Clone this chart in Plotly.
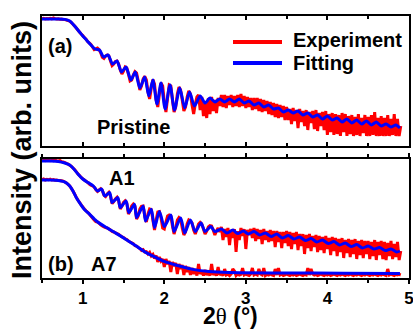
import numpy as np
import plotly.graph_objects as go

# ---- measured reflectivity scans: 2θ from 0.50° in steps of 0.02° ----
scan_start, scan_step = 0.50, 0.02

# log10 intensity (arb. units), ten points per row
pristine_exp = [
    6.36, 6.38, 6.35, 6.37, 6.36, 6.38, 6.36, 6.40, 6.37, 6.35,
    6.36, 6.34, 6.35, 6.33, 6.32, 6.30, 6.27, 6.24, 6.17, 6.09,
    6.00, 5.90, 5.80, 5.70, 5.60, 5.52, 5.42, 5.34, 5.22, 5.15,
    5.08, 4.95, 4.82, 4.86, 4.90, 4.82, 4.66, 4.44, 4.38, 4.50,
    4.55, 4.50, 4.25, 4.02, 4.10, 4.22, 4.25, 4.10, 3.80, 3.60,
    3.75, 3.95, 3.90, 3.60, 3.25, 3.30, 3.55, 3.72, 3.65, 3.25,
    2.80, 3.00, 3.35, 3.48, 3.30, 2.70, 2.35, 2.90, 3.32, 3.10,
    2.30, 1.95, 2.60, 3.15, 3.00, 2.20, 1.70, 2.40, 3.05, 3.00,
    2.30, 1.70, 1.95, 2.60, 2.95, 2.80, 2.30, 1.75, 1.95, 2.45,
    2.75, 2.60, 2.05, 1.60, 2.10, 2.45, 2.55, 1.80, 2.45, 1.50,
    2.10, 1.40, 2.40, 1.60, 2.45, 1.75, 2.30, 1.65, 2.40, 2.00,
    2.55, 1.95, 2.55, 1.90, 2.50, 2.05, 2.55, 1.95, 2.50, 2.00,
    2.55, 1.95, 2.60, 2.00, 2.50, 1.90, 2.45, 1.95, 2.40, 1.80,
    2.40, 1.85, 2.40, 1.75, 2.35, 1.70, 2.30, 1.75, 2.25, 1.60,
    2.20, 1.55, 2.15, 1.45, 2.10, 1.40, 2.05, 1.45, 2.00, 1.30,
    1.95, 1.30, 1.85, 1.10, 1.90, 1.25, 1.80, 0.90, 1.85, 1.20,
    1.75, 1.00, 1.80, 0.80, 1.70, 1.15, 1.75, 0.85, 1.80, 0.75,
    1.65, 1.00, 1.70, 0.80, 1.75, 0.55, 1.60, 0.70, 1.65, 0.55,
    1.60, 0.60, 1.55, 0.50, 1.65, 0.70, 1.60, 0.50, 1.50, 0.60,
    1.55, 0.50, 1.45, 0.55, 1.60, 0.50, 1.40, 0.65, 1.55, 0.50,
    1.45, 0.50, 1.55, 0.55, 1.70, 0.50, 1.40, 0.50, 1.50, 0.50,
    1.40, 0.50, 1.55, 0.50, 1.35, 0.55, 1.60, 0.50, 1.35, 0.50,
    1.00,
]

a1_exp = [
    5.88, 5.90, 5.87, 5.90, 5.88, 5.86, 5.89, 5.87, 5.90, 5.86,
    5.85, 5.87, 5.82, 5.80, 5.77, 5.73, 5.70, 5.64, 5.58, 5.50,
    5.42, 5.32, 5.21, 5.12, 5.03, 4.96, 4.90, 4.84, 4.78, 4.70,
    4.64, 4.60, 4.55, 4.42, 4.33, 4.40, 4.46, 4.38, 4.15, 4.08,
    4.20, 4.28, 4.10, 3.72, 3.82, 3.95, 4.03, 3.85, 3.45, 3.60,
    3.78, 3.86, 3.75, 3.20, 3.35, 3.60, 3.70, 3.60, 2.95, 3.10,
    3.45, 3.58, 3.60, 3.10, 2.80, 3.20, 3.45, 3.42, 2.90, 2.40,
    2.90, 3.30, 3.32, 3.00, 2.50, 2.45, 2.80, 3.10, 3.15, 3.10,
    2.60, 2.20, 2.50, 2.90, 3.02, 2.95, 2.50, 2.15, 2.30, 2.70,
    2.90, 2.85, 2.75, 2.40, 2.20, 2.45, 2.70, 2.78, 2.70, 2.45,
    2.20, 2.35, 2.55, 2.62, 2.60, 2.40, 2.15, 2.35, 2.50, 2.30,
    2.55, 1.90, 2.45, 2.05, 2.50, 1.65, 2.40, 2.00, 2.45, 1.30,
    2.35, 1.90, 2.50, 2.10, 2.45, 1.45, 2.40, 2.15, 2.45, 2.00,
    2.50, 1.85, 2.45, 1.95, 2.40, 1.70, 2.45, 1.90, 2.35, 1.80,
    2.40, 1.85, 2.35, 1.55, 2.35, 1.80, 2.30, 1.50, 2.30, 1.75,
    2.35, 1.60, 2.30, 1.45, 2.25, 1.70, 2.30, 1.40, 2.20, 1.60,
    2.20, 1.20, 2.15, 1.50, 2.20, 1.35, 2.10, 1.55, 2.15, 1.30,
    2.10, 1.40, 2.05, 1.25, 2.10, 1.45, 2.00, 1.15, 2.05, 1.35,
    2.00, 1.10, 1.95, 1.30, 2.00, 1.00, 1.90, 1.25, 1.95, 1.05,
    1.90, 1.20, 1.95, 0.95, 1.85, 1.15, 1.90, 1.00, 1.85, 1.20,
    1.85, 0.95, 1.80, 1.10, 1.90, 0.90, 1.80, 1.15, 1.85, 0.95,
    1.80, 0.90, 1.75, 1.10, 1.85, 0.95, 1.70, 1.05, 1.80, 0.90,
    1.35,
]

a7_exp = [
    4.92, 4.95, 4.90, 4.93, 4.91, 4.94, 4.90, 4.92, 4.89, 4.90,
    4.88, 4.87, 4.86, 4.84, 4.80, 4.75, 4.68, 4.60, 4.48, 4.35,
    4.20, 4.04, 3.90, 3.78, 3.66, 3.55, 3.45, 3.36, 3.28, 3.20,
    3.10, 3.00, 2.90, 2.82, 2.80, 2.74, 2.66, 2.60, 2.56, 2.52,
    2.50, 2.45, 2.40, 2.33, 2.30, 2.26, 2.22, 2.18, 2.12, 2.06,
    2.02, 1.96, 1.92, 1.85, 1.80, 1.76, 1.72, 1.62, 1.60, 1.52,
    1.48, 1.38, 1.42, 1.30, 1.32, 1.20, 1.28, 1.10, 1.18, 0.98,
    1.12, 0.80, 1.05, 0.85, 0.95, 0.55, 0.95, 0.70, 0.85, 0.30,
    0.80, 0.60, 0.75, 0.20, 0.70, 0.45, 0.65, 0.15, 0.60, 0.30,
    0.55, 0.15, 0.50, 0.20, 0.45, 0.12, 0.70, 0.20, 0.35, 0.12,
    0.40, 0.15, 0.32, 0.12, 0.70, 0.15, 0.30, 0.12, 0.55, 0.15,
    0.25, 0.12, 0.45, 0.15, 0.20, 0.12, 0.20, 0.45, 0.35, 0.12,
    0.20, 0.15, 0.18, 0.50, 0.15, 0.20, 0.15, 0.12, 0.20, 0.50,
    0.15, 0.20, 0.15, 0.45, 0.20, 0.15, 0.50, 0.12, 0.18, 0.15,
    0.20, 0.15, 0.12, 0.45, 0.15, 0.50, 0.15, 0.20, 0.12, 0.15,
    0.20, 0.15, 0.12, 0.18, 0.15, 0.20, 0.12, 0.15, 0.20, 0.15,
    0.12, 0.18, 0.15, 0.50, 0.15, 0.45, 0.20, 0.15, 0.18, 0.12,
    0.15, 0.20, 0.15, 0.12, 0.18, 0.15, 0.20, 0.12, 0.15, 0.20,
    0.15, 0.12, 0.18, 0.15, 0.20, 0.15, 0.12, 0.18, 0.15, 0.20,
    0.15, 0.12, 0.18, 0.15, 0.20, 0.15, 0.12, 0.18, 0.15, 0.20,
    0.15, 0.12, 0.18, 0.15, 0.20, 0.15, 0.12, 0.18, 0.15, 0.20,
    0.15, 0.12, 0.45, 0.15, 0.20, 0.15, 0.12, 0.18, 0.15, 0.18,
    0.15,
]

# ---- fitted model curves: nodes (2θ, log10 intensity) ----
pristine_fit_2theta = [
    0.50, 0.60, 0.70, 0.78, 0.84, 0.90, 0.96, 1.00, 1.05, 1.10,
    1.15, 1.205, 1.255, 1.31, 1.365, 1.42, 1.475, 1.53, 1.59, 1.645,
    1.70, 1.76, 1.81, 1.86, 1.91, 1.96, 2.01, 2.07, 2.125, 2.19,
    2.25, 2.31, 2.37, 2.44, 2.50, 2.56, 2.62, 2.68, 2.74, 2.80,
    2.86, 2.92, 2.98, 3.04, 3.10, 3.16, 3.22, 3.28, 3.34, 3.40,
    3.46, 3.52, 3.58, 3.64, 3.70, 3.76, 3.82, 3.88, 3.94, 4.00,
    4.06, 4.12, 4.18, 4.24, 4.30, 4.36, 4.42, 4.48, 4.54, 4.60,
    4.66, 4.72, 4.78, 4.84, 4.89,
]
pristine_fit = [
    6.35, 6.35, 6.35, 6.33, 6.25, 6.00, 5.70, 5.50, 5.28, 5.05,
    4.85, 4.80, 4.45, 4.55, 4.10, 4.25, 3.70, 3.95, 3.30, 3.70,
    2.90, 3.45, 2.50, 3.30, 2.10, 3.15, 1.85, 3.05, 1.80, 2.90,
    1.90, 2.70, 2.00, 2.50, 2.15, 2.40, 2.20, 2.35, 2.20, 2.35,
    2.20, 2.35, 2.15, 2.25, 2.05, 2.15, 1.95, 2.05, 1.85, 1.90,
    1.70, 1.80, 1.65, 1.75, 1.55, 1.65, 1.45, 1.55, 1.35, 1.50,
    1.30, 1.40, 1.20, 1.35, 1.15, 1.30, 1.10, 1.25, 1.05, 1.20,
    1.00, 1.10, 0.95, 1.05, 0.90,
]

a1_fit_2theta = [
    0.50, 0.60, 0.70, 0.78, 0.84, 0.88, 0.94, 1.00, 1.065, 1.13,
    1.18, 1.23, 1.27, 1.33, 1.36, 1.43, 1.46, 1.53, 1.565, 1.634,
    1.66, 1.74, 1.77, 1.84, 1.88, 1.94, 2.00, 2.08, 2.12, 2.20,
    2.25, 2.32, 2.38, 2.45, 2.50, 2.57, 2.62, 2.70, 2.77, 2.84,
    2.90, 2.97, 3.03, 3.10, 3.17, 3.24, 3.31, 3.38, 3.45, 3.52,
    3.59, 3.66, 3.73, 3.80, 3.87, 3.94, 4.01, 4.08, 4.15, 4.22,
    4.29, 4.36, 4.43, 4.50, 4.57, 4.64, 4.71, 4.78, 4.85, 4.89,
]
a1_fit = [
    5.85, 5.85, 5.83, 5.75, 5.65, 5.50, 5.20, 4.95, 4.77, 4.60,
    4.35, 4.45, 4.10, 4.27, 3.77, 4.02, 3.52, 3.85, 3.27, 3.69,
    3.02, 3.60, 2.85, 3.44, 2.52, 3.33, 2.57, 3.15, 2.32, 3.00,
    2.25, 2.90, 2.32, 2.75, 2.32, 2.57, 2.32, 2.45, 2.25, 2.40,
    2.22, 2.35, 2.20, 2.32, 2.15, 2.25, 2.07, 2.20, 2.00, 2.12,
    1.95, 2.05, 1.87, 1.97, 1.80, 1.90, 1.72, 1.82, 1.65, 1.75,
    1.57, 1.67, 1.50, 1.60, 1.45, 1.52, 1.37, 1.45, 1.30, 1.35,
]

a7_fit_2theta = [
    0.50, 0.60, 0.70, 0.76, 0.80, 0.84, 0.88, 0.92, 0.96, 1.02,
    1.085, 1.167, 1.29, 1.41, 1.53, 1.655, 1.777, 1.90, 2.00, 2.14,
    2.35, 2.55, 2.80, 3.50, 4.20, 4.89,
]
a7_fit = [
    4.90, 4.90, 4.88, 4.83, 4.75, 4.60, 4.35, 4.03, 3.77, 3.43,
    3.18, 2.85, 2.52, 2.23, 1.93, 1.60, 1.27, 1.02, 0.83, 0.65,
    0.43, 0.32, 0.27, 0.25, 0.24, 0.23,
]

x_tick_values = [1, 2, 3, 4, 5]
x_tick_labels = ["1", "2", "3", "4", "5"]

# ---- drawing ----
W, H = 413, 331
RED = "#ff0000"
BLUE = "#0000ff"
FONT = "Liberation Sans, Arial, sans-serif"


def fx(px):
    return px / W


def fy(px):
    return 1 - px / H


def scan_axis(values):
    return np.round(scan_start + scan_step * np.arange(len(values)), 3)


def intensity(logs):
    return np.power(10.0, np.asarray(logs, dtype=float))


exp_line = dict(color=RED, width=3, simplify=False)
fit_line = dict(color=BLUE, width=3, shape="spline", smoothing=0.7, simplify=False)

fig = go.Figure()

# (a) pristine film
fig.add_trace(go.Scatter(x=scan_axis(pristine_exp), y=intensity(pristine_exp),
                         mode="lines", line=exp_line, xaxis="x", yaxis="y"))
fig.add_trace(go.Scatter(x=pristine_fit_2theta, y=intensity(pristine_fit),
                         mode="lines", line=fit_line, xaxis="x", yaxis="y"))

# (b) annealed films A1 and A7
for exp_vals, fit_x, fit_vals in ((a1_exp, a1_fit_2theta, a1_fit),
                                  (a7_exp, a7_fit_2theta, a7_fit)):
    fig.add_trace(go.Scatter(x=scan_axis(exp_vals), y=intensity(exp_vals),
                             mode="lines", line=exp_line, xaxis="x2", yaxis="y2"))
    fig.add_trace(go.Scatter(x=fit_x, y=intensity(fit_vals),
                             mode="lines", line=fit_line, xaxis="x2", yaxis="y2"))

x_common = dict(
    domain=[fx(42), fx(409)], range=[0.5, 5.001], automargin=False,
    tickmode="array", tickvals=x_tick_values, ticktext=x_tick_labels,
    ticklen=4, tickwidth=1.5, tickcolor="black",
    minor=dict(dtick=0.5, tick0=0, ticklen=3, tickwidth=1.5, tickcolor="black"),
    showline=True, linewidth=2, linecolor="black", mirror="ticks",
    showgrid=False, zeroline=False,
)
y_common = dict(
    type="log", showticklabels=False, ticks="", automargin=False,
    showline=True, linewidth=2, linecolor="black", mirror=True,
    showgrid=False, zeroline=False,
)

fig.update_layout(
    width=W, height=H,
    margin=dict(l=0, r=0, t=0, b=0, autoexpand=False),
    paper_bgcolor="white", plot_bgcolor="white",
    showlegend=False,
    xaxis=dict(**x_common, anchor="y", ticks="inside", showticklabels=False),
    yaxis=dict(**y_common, domain=[fy(146), fy(16)], range=[0, 6.5], anchor="x"),
    xaxis2=dict(**x_common, anchor="y2", ticks="outside", matches="x",
                showticklabels=True, ticklabeloverflow="allow",
                tickfont=dict(family=FONT, size=17, color="black", weight="bold")),
    yaxis2=dict(**y_common, domain=[fy(278), fy(159)], range=[0, 5.95], anchor="x2"),
)
fig.layout.xaxis.minor.ticks = "inside"
fig.layout.xaxis2.minor.ticks = "outside"

# legend keys
for ypx, col in ((42, RED), (63, BLUE)):
    fig.add_shape(type="line", xref="paper", yref="paper",
                  x0=fx(233), x1=fx(282), y0=fy(ypx), y1=fy(ypx),
                  line=dict(color=col, width=4))


def label(text, xpx, ypx, anchor="left", size=20, angle=0, yanchor="middle"):
    fig.add_annotation(text=text, xref="paper", yref="paper",
                       x=fx(xpx), y=fy(ypx), xanchor=anchor, yanchor=yanchor,
                       showarrow=False, textangle=angle,
                       font=dict(family=FONT, size=size, color="black", weight="bold"))


label("Experiment", 291, 40)
label("Fitting", 291, 63)
label("(a)", 46, 46)
label("Pristine", 133, 127, anchor="center")
label("A1", 122, 178, anchor="center")
label("(b)", 46, 264)
label("A7", 104, 264, anchor="center")
label("Intensity (arb. units)", 22, 150, anchor="center", size=27, angle=-90)
label("2<span style='font-family:Liberation Serif;font-weight:normal'>θ</span> (°)",
      230, 331, anchor="center", size=23, yanchor="bottom")

fig.write_html("out.html")
